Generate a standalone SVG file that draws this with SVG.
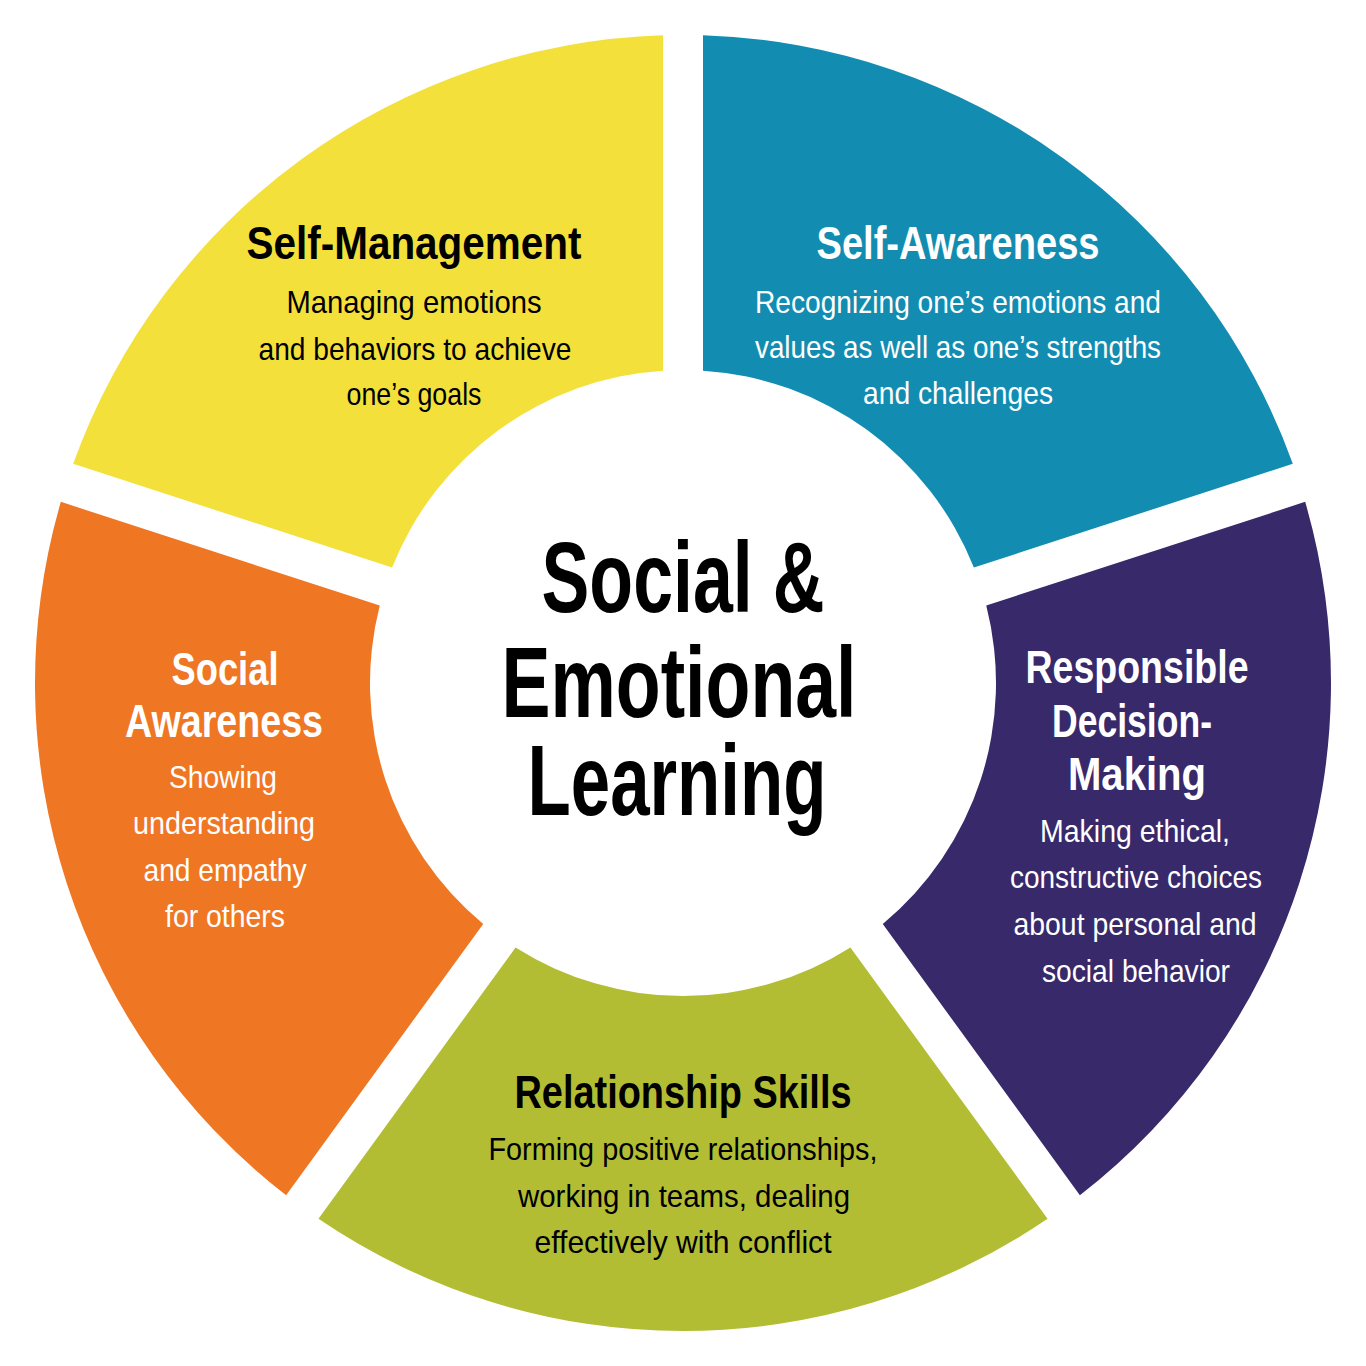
<svg xmlns="http://www.w3.org/2000/svg" width="1366" height="1366" viewBox="0 0 1366 1366">
<style>
text { font-family: "Liberation Sans Narrow", "Liberation Sans", Arial, sans-serif; text-anchor: middle; }
.h { font-size: 47px; font-weight: bold; }
.b { font-size: 32px; }
.c { font-size: 100px; font-weight: bold; fill: #000; }
.dk { fill: #000; }
.lt { fill: #fff; }
</style>
<rect width="1366" height="1366" fill="#fff"/>
<g id="self-awareness">
<path d="M 703,35.31 A 648 648 0 0 1 1292.81,463.83 L 973.89,567.46 A 313 313 0 0 0 703,370.64 Z" fill="#128DB1"/>
<text class="h lt" x="958" y="259" textLength="283" lengthAdjust="spacingAndGlyphs">Self-Awareness</text>
<text class="b lt" x="958" y="313" textLength="406" lengthAdjust="spacingAndGlyphs">Recognizing one’s emotions and</text>
<text class="b lt" x="958" y="358" textLength="406" lengthAdjust="spacingAndGlyphs">values as well as one’s strengths</text>
<text class="b lt" x="958" y="404" textLength="190" lengthAdjust="spacingAndGlyphs">and challenges</text>
</g>
<g id="responsible-decision-making">
<path d="M 1305.17,501.87 A 648 648 0 0 1 1079.88,1195.23 L 882.78,923.94 A 313 313 0 0 0 986.25,605.50 Z" fill="#38296B"/>
<text class="h lt" x="1137" y="683" textLength="223" lengthAdjust="spacingAndGlyphs">Responsible</text>
<text class="h lt" x="1132" y="737" textLength="160" lengthAdjust="spacingAndGlyphs">Decision-</text>
<text class="h lt" x="1137" y="790" textLength="138" lengthAdjust="spacingAndGlyphs">Making</text>
<text class="b lt" x="1135" y="842" textLength="190" lengthAdjust="spacingAndGlyphs">Making ethical,</text>
<text class="b lt" x="1136" y="888" textLength="252" lengthAdjust="spacingAndGlyphs">constructive choices</text>
<text class="b lt" x="1135" y="935" textLength="243" lengthAdjust="spacingAndGlyphs">about personal and</text>
<text class="b lt" x="1136" y="982" textLength="188" lengthAdjust="spacingAndGlyphs">social behavior</text>
</g>
<g id="relationship-skills">
<path d="M 1047.52,1218.75 A 648 648 0 0 1 318.48,1218.75 L 515.58,947.46 A 313 313 0 0 0 850.42,947.46 Z" fill="#B3BD34"/>
<text class="h dk" x="683" y="1108" textLength="337" lengthAdjust="spacingAndGlyphs">Relationship Skills</text>
<text class="b dk" x="683" y="1160" textLength="389" lengthAdjust="spacingAndGlyphs">Forming positive relationships,</text>
<text class="b dk" x="684" y="1207" textLength="332" lengthAdjust="spacingAndGlyphs">working in teams, dealing</text>
<text class="b dk" x="683" y="1253" textLength="297" lengthAdjust="spacingAndGlyphs">effectively with conflict</text>
</g>
<g id="social-awareness">
<path d="M 286.12,1195.23 A 648 648 0 0 1 60.83,501.87 L 379.75,605.50 A 313 313 0 0 0 483.22,923.94 Z" fill="#EF7623"/>
<text class="h lt" x="225" y="685" textLength="107" lengthAdjust="spacingAndGlyphs">Social</text>
<text class="h lt" x="224" y="737" textLength="198" lengthAdjust="spacingAndGlyphs">Awareness</text>
<text class="b lt" x="223" y="788" textLength="108" lengthAdjust="spacingAndGlyphs">Showing</text>
<text class="b lt" x="224" y="834" textLength="182" lengthAdjust="spacingAndGlyphs">understanding</text>
<text class="b lt" x="225" y="881" textLength="163" lengthAdjust="spacingAndGlyphs">and empathy</text>
<text class="b lt" x="225" y="927" textLength="120" lengthAdjust="spacingAndGlyphs">for others</text>
</g>
<g id="self-management">
<path d="M 73.19,463.83 A 648 648 0 0 1 663,35.31 L 663,370.64 A 313 313 0 0 0 392.11,567.46 Z" fill="#F4E03A"/>
<text class="h dk" x="414" y="259" textLength="335" lengthAdjust="spacingAndGlyphs">Self-Management</text>
<text class="b dk" x="414" y="313" textLength="255" lengthAdjust="spacingAndGlyphs">Managing emotions</text>
<text class="b dk" x="415" y="360" textLength="313" lengthAdjust="spacingAndGlyphs">and behaviors to achieve</text>
<text class="b dk" x="414" y="405" textLength="135" lengthAdjust="spacingAndGlyphs">one’s goals</text>
</g>
<g id="center">
<text class="c" x="683" y="612" textLength="283" lengthAdjust="spacingAndGlyphs">Social &amp;</text>
<text class="c" x="679" y="717" textLength="355" lengthAdjust="spacingAndGlyphs">Emotional</text>
<text class="c" x="677" y="815" textLength="299" lengthAdjust="spacingAndGlyphs">Learning</text>
</g>
</svg>
